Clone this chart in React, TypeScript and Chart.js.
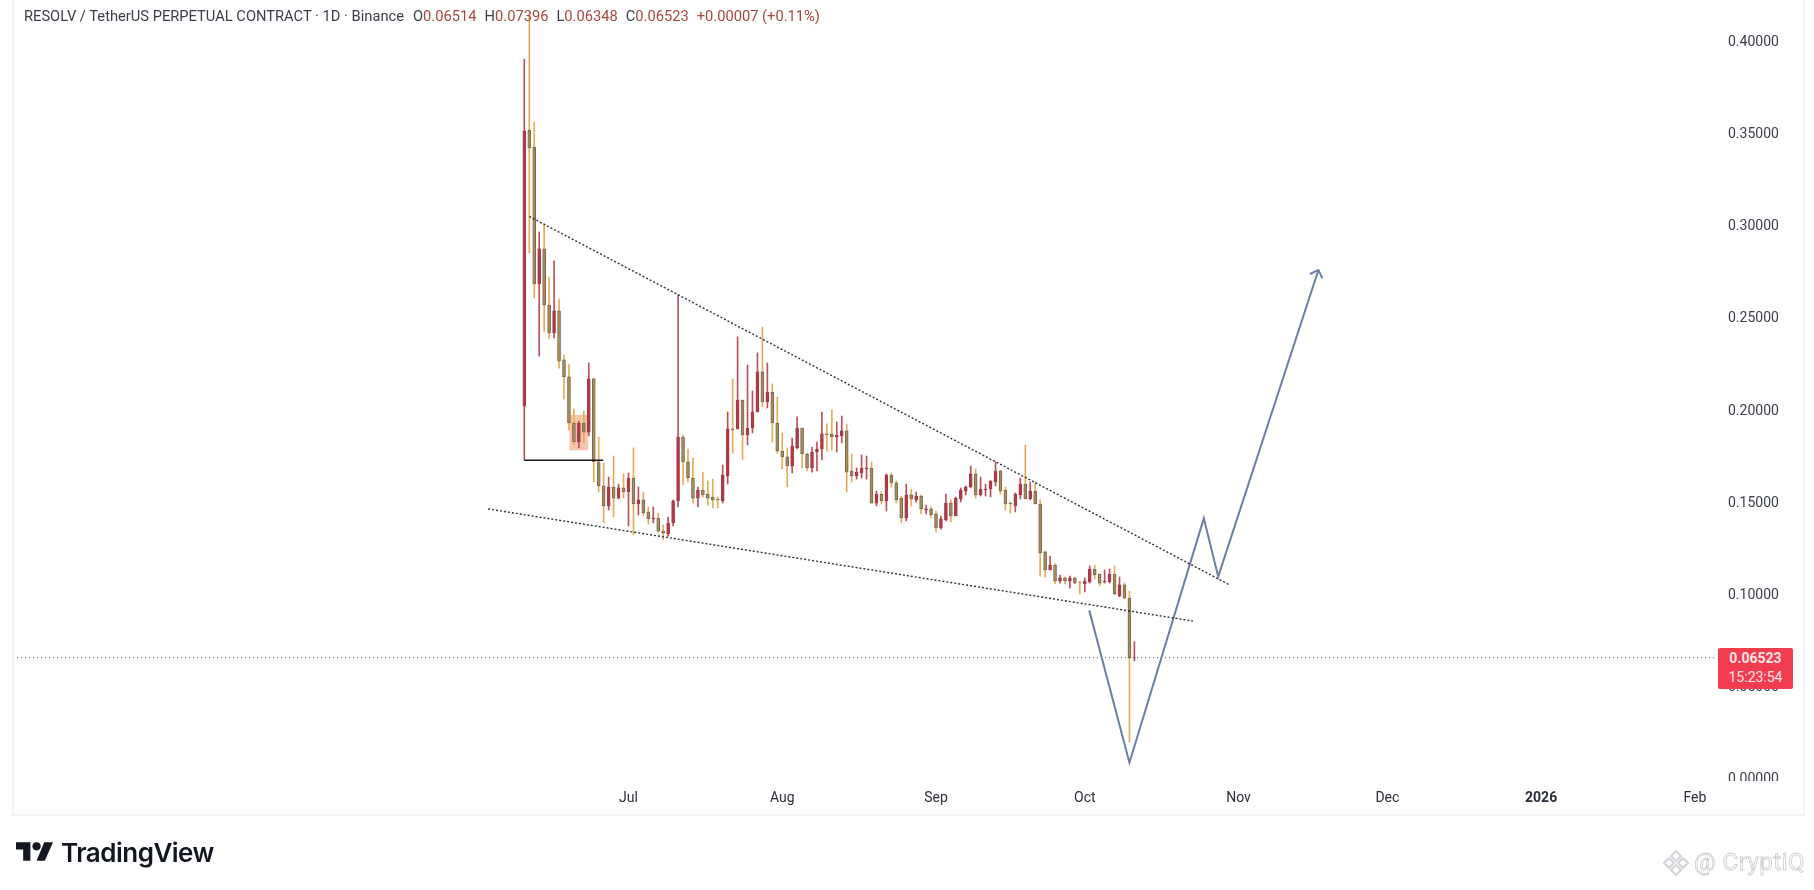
import React, { useEffect, useRef } from "react";
import { Chart, registerables } from "chart.js";

Chart.register(...registerables);

const opens = [.2017,.3514,.3422,.2679,.2869,.2565,.2413,.2533,.2267,.2175,.1925,.1822,.1925,.1876,.2164,.1714,.1584,.1475,.1578,.1518,.1573,.1551,.1627,.1486,.1508,.1443,.1405,.1410,.1339,.1323,.1383,.1502,.1849,.1714,.1627,.1518,.1562,.1540,.1524,.1513,.1502,.1638,.1893,.1893,.2050,.1860,.1898,.1985,.2202,.2039,.2093,.1925,.1773,.1741,.1692,.1790,.1898,.1757,.1681,.1768,.1784,.1866,.1866,.1849,.1855,.1882,.1665,.1638,.1654,.1676,.1681,.1491,.1540,.1502,.1643,.1600,.1518,.1410,.1535,.1508,.1529,.1453,.1459,.1432,.1356,.1399,.1491,.1421,.1513,.1556,.1578,.1649,.1535,.1562,.1567,.1605,.1665,.1562,.1491,.1475,.1535,.1594,.1513,.1556,.1486,.1226,.1128,.1155,.1068,.1085,.1068,.1085,.1063,.1052,.1063,.1133,.1106,.1063,.1063,.1106,.0987,.1047,.0976,.06514];
const highs = [.3899,.4138,.3557,.2961,.3004,.2717,.2804,.2598,.2294,.2245,.2001,.1936,.1990,.2251,.2169,.1849,.1708,.1632,.1746,.1594,.1649,.1654,.1790,.1578,.1551,.1470,.1470,.1437,.1372,.1415,.1508,.2619,.1860,.1784,.1735,.1578,.1659,.1611,.1621,.1524,.1697,.1985,.2164,.2392,.2050,.2240,.2099,.2305,.2446,.2251,.2137,.2066,.1871,.1790,.1844,.1958,.1898,.1762,.1795,.1822,.1985,.1920,.1996,.1931,.1963,.1920,.1757,.1681,.1752,.1746,.1714,.1556,.1551,.1649,.1654,.1611,.1529,.1594,.1567,.1551,.1535,.1480,.1470,.1448,.1421,.1540,.1508,.1524,.1573,.1584,.1692,.1676,.1632,.1594,.1611,.1714,.1670,.1578,.1497,.1546,.1627,.1806,.1605,.1605,.1508,.1231,.1204,.1161,.1101,.1090,.1095,.1090,.1068,.1085,.1150,.1155,.1106,.1128,.1133,.1150,.1090,.1057,.1014,.07396];
const lows = [.1725,.2847,.2603,.2288,.2419,.2381,.2386,.2223,.2055,.1887,.1806,.1790,.1817,.1855,.1605,.1551,.1383,.1453,.1415,.1513,.1518,.1367,.1318,.1426,.1421,.1377,.1383,.1329,.1291,.1312,.1367,.1470,.1589,.1605,.1491,.1470,.1524,.1480,.1464,.1464,.1491,.1594,.1762,.1893,.1725,.1806,.1871,.1985,.2012,.2007,.1822,.1762,.1676,.1578,.1654,.1784,.1681,.1665,.1659,.1665,.1725,.1773,.1779,.1768,.1817,.1551,.1605,.1621,.1627,.1621,.1491,.1475,.1486,.1448,.1578,.1491,.1383,.1394,.1475,.1497,.1432,.1432,.1410,.1334,.1350,.1394,.1388,.1421,.1497,.1535,.1573,.1518,.1529,.1529,.1524,.1584,.1540,.1453,.1437,.1443,.1513,.1513,.1508,.1486,.1095,.1090,.1128,.1052,.1057,.1052,.1030,.1052,.0998,.1009,.1057,.1079,.1041,.1057,.1057,.0992,.0982,.0971,.0195,.06348];
const closes = [.3509,.3416,.2679,.2869,.2565,.2413,.2533,.2261,.2175,.1925,.1822,.1925,.1876,.2164,.1714,.1584,.1475,.1578,.1518,.1573,.1551,.1627,.1486,.1508,.1437,.1405,.1410,.1339,.1329,.1383,.1502,.1849,.1714,.1627,.1518,.1562,.1535,.1518,.1508,.1508,.1643,.1893,.1887,.2050,.1860,.1898,.1985,.2202,.2039,.2093,.1925,.1773,.1741,.1692,.1800,.1898,.1757,.1681,.1768,.1784,.1866,.1860,.1849,.1860,.1882,.1659,.1638,.1659,.1681,.1681,.1491,.1540,.1502,.1643,.1600,.1508,.1410,.1535,.1513,.1529,.1459,.1459,.1426,.1356,.1405,.1491,.1421,.1518,.1562,.1578,.1649,.1535,.1567,.1567,.1611,.1665,.1556,.1486,.1486,.1540,.1594,.1513,.1556,.1486,.1220,.1128,.1155,.1068,.1085,.1068,.1085,.1057,.1060,.1068,.1133,.1101,.1057,.1068,.1106,.0998,.1047,.0976,.0651,.06523];

const lastPrice = 0.06523;
const priceTicks = [0, 0.05, 0.1, 0.15, 0.2, 0.25, 0.3, 0.35, 0.4];
const monthDays = [21, 52, 83, 113, 144, 174, 205, 236];
const monthNames = ["Jul", "Aug", "Sep", "Oct", "Nov", "Dec", "2026", "Feb"];

const upperTrendDays = [1.0, 142.0];
const upperTrendPrices = [0.3045, 0.1050];
const lowerTrendDays = [-7.3, 134.8];
const lowerTrendPrices = [0.1459, 0.0851];
const baseLineDays = [0, 15.9];
const baseLinePrices = [0.1723, 0.1723];
const pathDays = [113.9, 122.0, 137.0, 139.9, 160.1];
const pathPrices = [0.0909, 0.0083, 0.1408, 0.1092, 0.2755];
const arrowDays = [158.4, 160.1, 160.9];
const arrowPrices = [0.2733, 0.2755, 0.2710];
const zoneDay = 11;
const zonePrices = [0.1779, 0.1968];
const xRange = [-103.09, 240.26];
const yRange = [-0.00163, 0.4219];

const RED = "#b23b4a";
const TAN_FILL = "#ad8c58";
const TAN_EDGE = "#76684f";
const WICK_UP = "#b9505c";
const WICK_DOWN = "#e3ad58";
const BLUE = "#6b7ea8";

const pts = (xs: number[], ys: number[]) => xs.map((x, i) => ({ x, y: ys[i] }));

const nudgePriceLabels = {
  id: "nudgePriceLabels",
  beforeDraw(chart: any) {
    const items = chart.scales.y.getLabelItems();
    items.forEach((item: any) => {
      if (!item.nudged) {
        item.options.translation[1] += 2;
        item.nudged = true;
      }
    });
  },
};

export default function App() {
  const ref = useRef<HTMLCanvasElement>(null);
  useEffect(() => {
    document.body.style.margin = "0";
    document.body.style.background = "#fff";
    const isUp = closes.map((c, i) => c >= opens[i]);
    const line = (data: any[], color: string, width: number, dash: number[] = []) => ({
      type: "line" as const,
      data,
      borderColor: color,
      borderWidth: width,
      borderDash: dash,
      pointRadius: 0,
      tension: 0,
      fill: false,
      order: 0,
    });
    const chart = new Chart(ref.current!, {
      type: "bar",
      plugins: [nudgePriceLabels],
      data: {
        datasets: [
          line(pts(upperTrendDays, upperTrendPrices), "#2f3138", 1.4, [2, 2]),
          line(pts(lowerTrendDays, lowerTrendPrices), "#2f3138", 1.4, [2, 2]),
          line(pts(baseLineDays, baseLinePrices), "#16161a", 1.6),
          line(pts(pathDays, pathPrices), BLUE, 2),
          line(pts(arrowDays, arrowPrices), BLUE, 2),
          line(pts(xRange, [lastPrice, lastPrice]), "#6e5a5f", 1, [1, 3]),
          {
            data: opens.map((o, i) => ({ x: i, y: [o, closes[i]] })),
            backgroundColor: isUp.map((u) => (u ? RED : TAN_FILL)),
            borderColor: isUp.map((u) => (u ? "#a63a48" : TAN_EDGE)),
            borderWidth: 1,
            borderSkipped: false,
            barThickness: 3,
            grouped: false,
            order: 1,
          },
          {
            data: lows.map((l, i) => ({ x: i, y: [l, highs[i]] })),
            backgroundColor: isUp.map((u) => (u ? WICK_UP : WICK_DOWN)),
            barThickness: 1,
            grouped: false,
            order: 2,
          },
          {
            data: [{ x: zoneDay, y: zonePrices }],
            backgroundColor: "rgba(242,160,115,0.6)",
            barThickness: 18,
            grouped: false,
            order: 3,
          },
        ] as any,
      },
      options: {
        animation: false,
        responsive: false,
        layout: { padding: { left: 13, top: 0, right: 0, bottom: 0 } },
        plugins: { legend: { display: false }, tooltip: { enabled: false } },
        scales: {
          x: {
            type: "linear",
            offset: false,
            min: xRange[0],
            max: xRange[1],
            grid: { display: false, drawTicks: false },
            border: { display: false },
            afterFit: (s: any) => { s.height = 109; },
            afterBuildTicks: (s: any) => { s.ticks = monthDays.map((value) => ({ value })); },
            ticks: {
              autoSkip: false,
              maxRotation: 0,
              padding: 9,
              color: "#2a2e39",
              font: (c: any) => ({ family: "Roboto", size: 14, weight: c.tick && c.tick.value === 205 ? "bold" : "normal" }),
              callback: (v: any) => monthNames[monthDays.indexOf(v)] ?? "",
            },
          },
          y: {
            position: "right",
            min: yRange[0],
            max: yRange[1],
            grid: { display: false, drawTicks: false },
            border: { display: false },
            afterFit: (s: any) => { s.width = 98; s.paddingTop = 0; s.paddingBottom = 0; },
            afterBuildTicks: (s: any) => { s.ticks = priceTicks.map((value) => ({ value })); },
            ticks: {
              autoSkip: false,
              padding: 12,
              color: "#3a3e49",
              font: { family: "Roboto", size: 14 },
              callback: (v: any) => Number(v).toFixed(5),
            },
          },
        },
      } as any,
    });
    return () => chart.destroy();
  }, []);

  const abs: React.CSSProperties = { position: "absolute", whiteSpace: "nowrap" };
  const ohlc = "#a5483f";
  return (
    <div style={{ position: "relative", width: 1814, height: 890, overflow: "hidden", background: "#fff" }}>
      <canvas ref={ref} width={1814} height={890} style={{ position: "absolute", left: 0, top: 0, display: "block" }} />
      <div style={{ position: "absolute", left: 12, top: -2, width: 1789, height: 814, border: "2px solid #f0f3f8", pointerEvents: "none" }} />
      <div style={{ ...abs, left: 1720, top: 781, width: 78, height: 12, background: "#fff" }} />
      <div style={{ ...abs, left: 24, top: 7, font: "14.7px Roboto", color: "#3a3e49" }}>
        RESOLV / TetherUS PERPETUAL CONTRACT · 1D · Binance
        <span style={{ marginLeft: 9 }}>O<span style={{ color: ohlc }}>0.06514</span></span>
        <span style={{ marginLeft: 8 }}>H<span style={{ color: ohlc }}>0.07396</span></span>
        <span style={{ marginLeft: 8 }}>L<span style={{ color: ohlc }}>0.06348</span></span>
        <span style={{ marginLeft: 8 }}>C<span style={{ color: ohlc }}>0.06523</span></span>
        <span style={{ marginLeft: 8, color: ohlc }}>+0.00007 (+0.11%)</span>
      </div>
      <div style={{ ...abs, left: 1718, top: 648, width: 75, height: 40, background: "#f23c50", borderRadius: 2, color: "#fde3e6", font: "bold 14px Roboto", textAlign: "center", lineHeight: "19px", paddingTop: 1 }}>
        <div>0.06523</div>
        <div style={{ fontWeight: 400 }}>15:23:54</div>
      </div>
      <svg style={{ position: "absolute", left: 16, top: 842 }} width="37" height="19" viewBox="0 0 36 18">
        <path d="M14 18H7V7H0V0h14v18z M28 18h-8L27.5 0H36l-8 18z" fill="#131722" />
        <circle cx="20" cy="4" r="4" fill="#131722" />
      </svg>
      <div style={{ ...abs, left: 61, top: 837, font: "600 26px Inter", letterSpacing: -0.5, color: "#131722" }}>TradingView</div>
      <svg style={{ position: "absolute", left: 1662, top: 849 }} width="28" height="28" viewBox="0 0 28 28">
        <g fill="none" stroke="#d2d4d8" strokeWidth="2">
          <path d="M14 2l5 5-5 5-5-5z" />
          <path d="M7 9l5 5-5 5-5-5zM21 9l5 5-5 5-5-5z" />
          <path d="M14 16l5 5-5 5-5-5z" />
        </g>
      </svg>
      <div style={{ ...abs, left: 1694, top: 848, font: "24px Roboto", color: "#fff", WebkitTextStroke: "0.8px #c9cbd0", letterSpacing: 0.5 }}>@ CryptiQ</div>
    </div>
  );
}
